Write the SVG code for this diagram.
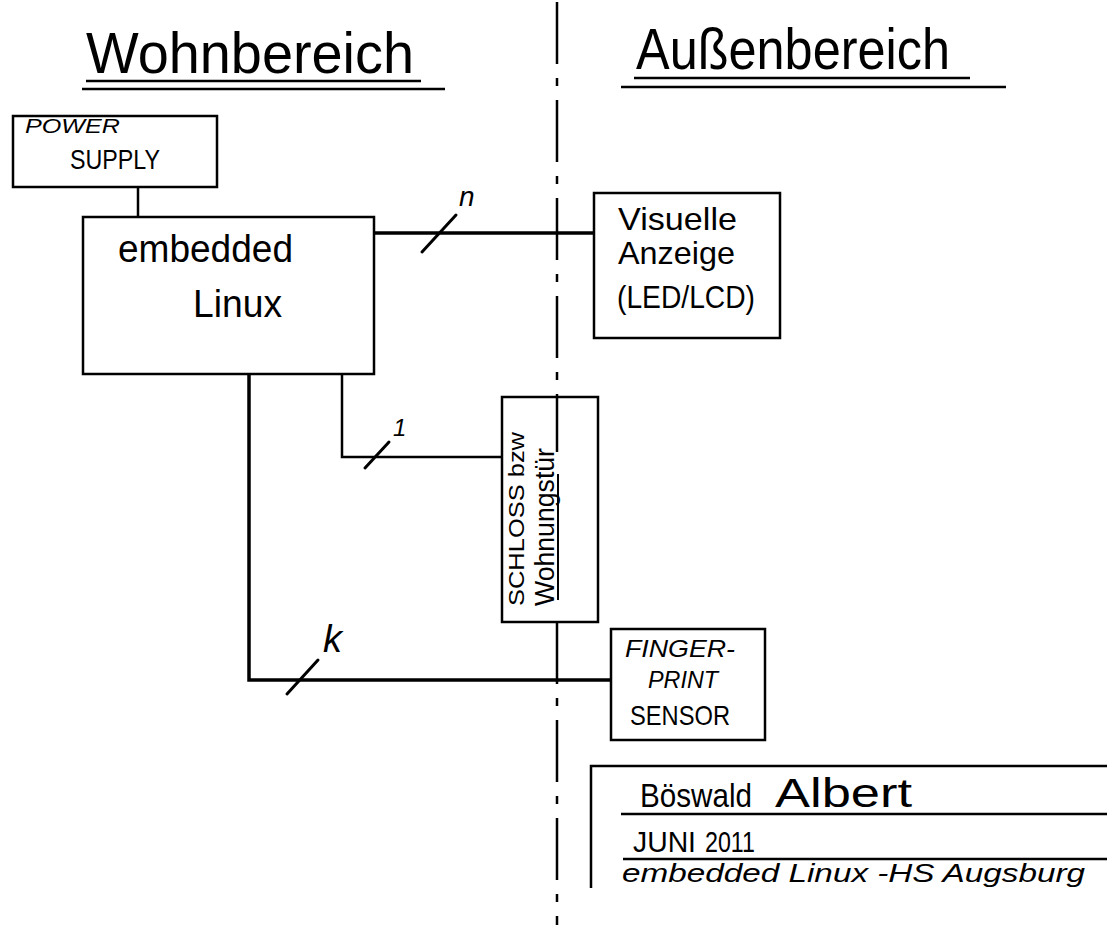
<svg xmlns="http://www.w3.org/2000/svg" width="1107" height="925" viewBox="0 0 1107 925">
<style>
.box{fill:#fff;stroke:#000;stroke-width:2.5}
.wire{fill:none;stroke:#000;stroke-width:3.5}
.thin{fill:none;stroke:#000;stroke-width:2.5}
.tick{stroke:#000;stroke-width:3;stroke-linecap:round}
.t{font-family:"Liberation Sans",Arial,sans-serif;fill:#000}
.i{font-style:italic}
.ul{stroke:#000;stroke-width:2.5}
.sep{stroke:#000;stroke-width:2.5;fill:none;stroke-dasharray:62 14 8 14}
</style>
<rect width="1107" height="925" fill="#fff"/>

<g id="separator">
  <path class="sep" d="M557 2 V397"/>
  <path class="thin" d="M557 397 V452"/>
  <path class="sep" d="M557 622 V925"/>
</g>

<g id="titles">
  <text class="t" x="86" y="73" font-size="58" textLength="328" lengthAdjust="spacingAndGlyphs">Wohnbereich</text>
  <line class="ul" x1="86" y1="81" x2="421" y2="81"/>
  <line class="ul" x1="82" y1="89" x2="445" y2="89"/>
  <text class="t" x="636" y="69" font-size="58" textLength="314" lengthAdjust="spacingAndGlyphs">Außenbereich</text>
  <line class="ul" x1="634" y1="78" x2="970" y2="78"/>
  <line class="ul" x1="621" y1="87" x2="1006" y2="87"/>
</g>

<g id="connectors">
  <path class="thin" d="M138 187 V217"/>
  <path class="wire" d="M374 233 H594"/>
  <line class="tick" x1="422" y1="252" x2="456" y2="215"/>
  <text class="t i" x="459" y="206" font-size="28">n</text>
  <path class="thin" d="M342 374 V457 H502"/>
  <line class="tick" x1="365" y1="468" x2="389" y2="442"/>
  <text class="t i" x="393" y="436" font-size="24">1</text>
  <path class="wire" d="M249 374 V680 H611"/>
  <line class="tick" x1="287" y1="694" x2="318" y2="660"/>
  <text class="t i" x="323" y="652" font-size="38">k</text>
</g>

<g id="power-supply">
  <rect class="box" x="13" y="116" width="204" height="71"/>
  <text class="t i" x="25" y="133" font-size="20" textLength="95" lengthAdjust="spacingAndGlyphs">POWER</text>
  <text class="t" x="70" y="169" font-size="28" textLength="90" lengthAdjust="spacingAndGlyphs">SUPPLY</text>
</g>

<g id="embedded-linux">
  <rect class="box" x="83" y="217" width="291" height="157"/>
  <text class="t" x="118" y="262" font-size="38" textLength="175" lengthAdjust="spacingAndGlyphs">embedded</text>
  <text class="t" x="193" y="317" font-size="38" textLength="89" lengthAdjust="spacingAndGlyphs">Linux</text>
</g>

<g id="visuelle-anzeige">
  <rect class="box" x="594" y="193" width="186" height="145"/>
  <text class="t" x="618" y="230" font-size="32" textLength="119" lengthAdjust="spacingAndGlyphs">Visuelle</text>
  <text class="t" x="618" y="264" font-size="32" textLength="117" lengthAdjust="spacingAndGlyphs">Anzeige</text>
  <text class="t" x="617" y="308" font-size="32" textLength="138" lengthAdjust="spacingAndGlyphs">(LED/LCD)</text>
</g>

<g id="schloss">
  <rect class="box" x="502" y="397" width="96" height="225"/>
  <path class="thin" d="M557 397 V452"/>
  <line stroke="#000" stroke-width="2" x1="558" y1="474" x2="558" y2="600"/>
  <text class="t" transform="translate(524,606) rotate(-90)" font-size="22" textLength="174" lengthAdjust="spacingAndGlyphs">SCHLOSS bzw</text>
  <text class="t" transform="translate(554,606) rotate(-90)" font-size="27" textLength="158" lengthAdjust="spacingAndGlyphs">Wohnungstür</text>
</g>

<g id="fingerprint-sensor">
  <rect class="box" x="611" y="629" width="154" height="111"/>
  <text class="t i" x="625" y="657" font-size="24" textLength="110" lengthAdjust="spacingAndGlyphs">FINGER-</text>
  <text class="t i" x="648" y="688" font-size="24" textLength="70" lengthAdjust="spacingAndGlyphs">PRINT</text>
  <text class="t" x="630" y="725" font-size="28" textLength="100" lengthAdjust="spacingAndGlyphs">SENSOR</text>
</g>

<g id="title-block">
  <path class="thin" d="M591 888 V766 H1107"/>
  <line class="ul" stroke-width="1.8" x1="621" y1="814" x2="1107" y2="814"/>
  <line class="ul" stroke-width="1.8" x1="623" y1="859" x2="1107" y2="859"/>
  <text class="t" x="640" y="807" font-size="34" textLength="112" lengthAdjust="spacingAndGlyphs">Böswald</text>
  <text class="t" x="775" y="807" font-size="40" textLength="137" lengthAdjust="spacingAndGlyphs">Albert</text>
  <text class="t" x="633" y="852" font-size="30" textLength="63" lengthAdjust="spacingAndGlyphs">JUNI</text>
  <text class="t" x="705" y="852" font-size="30" textLength="50" lengthAdjust="spacingAndGlyphs">2011</text>
  <text class="t i" x="622" y="882" font-size="26" textLength="463" lengthAdjust="spacingAndGlyphs">embedded  Linux  -HS Augsburg</text>
</g>
</svg>
